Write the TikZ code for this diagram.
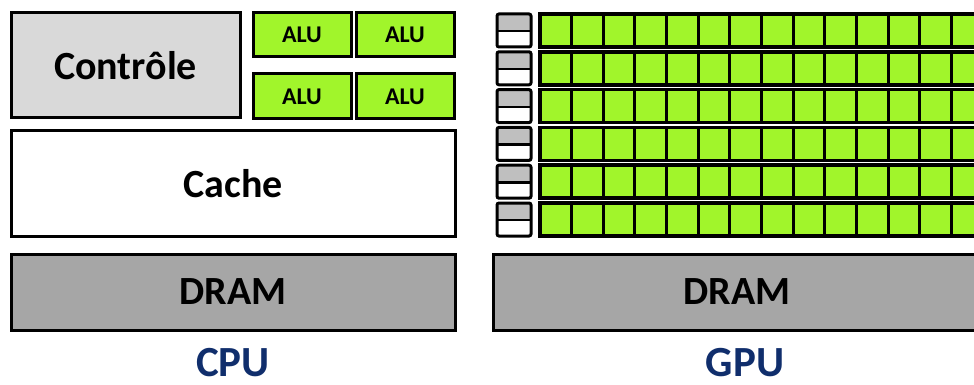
\documentclass[tikz,border=0pt]{standalone}
\usepackage{fontspec}
\setmainfont{Carlito}
\definecolor{alugreen}{RGB}{161,245,43}
\definecolor{ctrlgray}{RGB}{217,217,217}
\definecolor{dramgray}{RGB}{166,166,166}
\definecolor{sbgray}{RGB}{191,191,191}
\definecolor{navy}{RGB}{16,46,108}
\tikzset{
  box/.style={draw=black, line width=3pt, inner sep=0pt, font=\bfseries\fontsize{40}{40}\selectfont},
  alubox/.style={draw=black, line width=3pt, inner sep=0pt, fill=alugreen,
     minimum width=98pt, minimum height=44pt, font=\bfseries\fontsize{24}{24}\selectfont},
  cell/.style={draw=black, line width=3pt, fill=alugreen, inner sep=0pt,
     minimum width=31.65pt, minimum height=33pt},
  rowbox/.style={draw=black, line width=3.5pt, inner sep=0pt,
     minimum width=443.1pt, minimum height=33pt},
  sbfill/.style={inner sep=0pt, minimum width=34pt},
  sbox/.style={draw=black, line width=3pt, rounded corners=2pt, inner sep=0pt,
     minimum width=34pt, minimum height=33pt},
  label/.style={font=\bfseries\fontsize{43}{43}\selectfont, text=navy, anchor=base,
     inner sep=0pt, text depth=0pt}
}
\begin{document}
\begin{tikzpicture}[x=1pt,y=-1pt]
\useasboundingbox (0,0) rectangle (974,385);
\begin{scope}
\clip (0,0) rectangle (974,385);
% CPU
\node[box, fill=ctrlgray, minimum width=229pt, minimum height=105pt] (ctrl) at (125.5,65.5) {Contrôle};
\node[alubox] (alu1) at (302,35) {ALU};
\node[alubox] (alu2) at (405,35) {ALU};
\node[alubox, minimum height=45pt] (alu3) at (302,96.5) {ALU};
\node[alubox, minimum height=45pt] (alu4) at (405,96.5) {ALU};
\node[box, fill=white, minimum width=444pt, minimum height=105pt] (cache) at (233,183.5) {Cache};
\node[box, fill=dramgray, minimum width=444pt, minimum height=76pt] (dram1) at (233,292) {DRAM};
\node[label] (cpu) at (233,376) {CPU};
% GPU
\foreach \r in {0,...,5}{
  \pgfmathsetmacro{\y}{14+37.8*\r}
  \node[sbfill, fill=white, minimum height=33pt] (sbw-\r) at (514,\y+16.5) {};
  \node[sbfill, fill=sbgray, minimum height=17pt] (sbg-\r) at (514,\y+8.5) {};
  \draw[line width=2.5pt] (sbg-\r.south west) -- (sbg-\r.south east);
  \node[sbox] (sb-\r) at (514,\y+16.5) {};
  \foreach \c in {0,...,13}{
    \node[cell] (c-\r-\c) at (540+31.65*\c+15.825,\y+16.5) {};
  }
  \node[rowbox] (row-\r) at (540+221.55,\y+16.5) {};
}
\node[box, fill=dramgray, minimum width=488pt, minimum height=76pt] (dram2) at (737,292) {DRAM};
\node[label] (gpu) at (745,376) {GPU};
\end{scope}
\end{tikzpicture}
\end{document}
